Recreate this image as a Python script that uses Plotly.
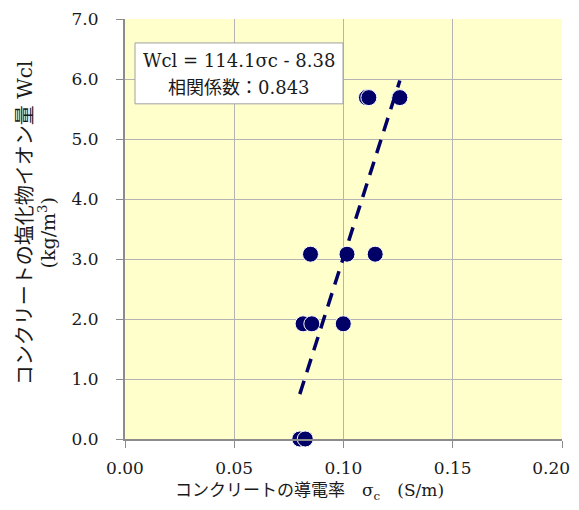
import plotly.graph_objects as go
import numpy as np

# data
sigma_c = [0.0800, 0.0825, 0.0815, 0.0855, 0.0999, 0.0849, 0.1016, 0.1145, 0.1105, 0.1116, 0.1255, 0.1258]
wcl     = [0.00,   0.00,   1.92,   1.92,   1.92,   3.08,   3.08,   3.08,   5.69,   5.69,   5.69,   5.69]
slope, intercept = 114.1, -8.38
r_corr = 0.843
x_ticks = [0.00, 0.05, 0.10, 0.15, 0.20]
y_ticks = [0, 1, 2, 3, 4, 5, 6, 7]

navy = "#000066"
font_fam = "'DejaVu Serif', 'Noto Sans CJK JP', serif"
txt_col = "#1a1a1a"

# last x label is padded so that it stays inside the page edge
x_ticktext = [f"{v:.2f}" for v in x_ticks]
x_ticktext[-1] = x_ticktext[-1] + "\u00a0" * 4

fig = go.Figure()
fig.add_trace(go.Scatter(
    x=sigma_c, y=wcl, mode="markers",
    marker=dict(size=16, color=navy, line=dict(color="white", width=1)),
    showlegend=False, cliponaxis=False))

tx = np.array([min(sigma_c), max(sigma_c)])
fig.add_trace(go.Scatter(
    x=tx, y=slope * tx + intercept, mode="lines",
    line=dict(color=navy, width=3.5, dash="14px,9px"),
    showlegend=False))

axis_common = dict(showgrid=True, gridcolor="#b4b4b4", gridwidth=1, automargin=False,
                   showline=True, linecolor="#8c8c8c", linewidth=2,
                   ticks="outside", ticklen=7, tickcolor="#8c8c8c", zeroline=False,
                   ticklabeloverflow="allow",
                   tickfont=dict(family=font_fam, size=17, color=txt_col))

fig.update_layout(
    width=563, height=494,
    margin=dict(l=117, r=9, t=11, b=63),
    paper_bgcolor="white", plot_bgcolor="#FFFFCC",
    font=dict(family=font_fam, size=18, color=txt_col),
    xaxis=dict(range=[0, 0.20], tickvals=x_ticks, ticktext=x_ticktext,
               ticklabelstandoff=6, **axis_common),
    yaxis=dict(range=[0, 7], tickvals=y_ticks, ticktext=[f"{v:.1f}" for v in y_ticks],
               ticklabelstandoff=14, **axis_common),
)

# axis titles
fig.add_annotation(xref="paper", yref="paper", x=0.4233, y=-0.126, xanchor="center", yanchor="middle",
                   text="コンクリートの導電率　σ<sub>c</sub>　(S/m)", showarrow=False,
                   font=dict(family=font_fam, size=17, color=txt_col))
fig.add_annotation(xref="paper", yref="paper", x=-0.2288, y=0.514, xanchor="center", yanchor="middle",
                   text="コンクリートの塩化物イオン量 Wcl", textangle=-90, showarrow=False,
                   font=dict(family=font_fam, size=20, color=txt_col))
fig.add_annotation(xref="paper", yref="paper", x=-0.178, y=0.49, xanchor="center", yanchor="middle",
                   text="(kg/m<sup>3</sup>)", textangle=-90, showarrow=False,
                   font=dict(family=font_fam, size=19, color=txt_col))

# regression box
fig.add_shape(type="rect", xref="paper", yref="paper", x0=0.0229, x1=0.4989, y0=0.798, y1=0.943,
              fillcolor="white", line=dict(color="#a0a0a0", width=1), layer="above")
fig.add_annotation(xref="paper", yref="paper", x=0.261, y=0.902, xanchor="center", yanchor="middle",
                   text=f"Wcl = {slope}σc - {abs(intercept):.2f}", showarrow=False,
                   font=dict(family=font_fam, size=18, color=txt_col))
fig.add_annotation(xref="paper", yref="paper", x=0.261, y=0.836, xanchor="center", yanchor="middle",
                   text=f"相関係数：{r_corr}", showarrow=False,
                   font=dict(family=font_fam, size=18, color=txt_col))

fig.write_html("out.html")
